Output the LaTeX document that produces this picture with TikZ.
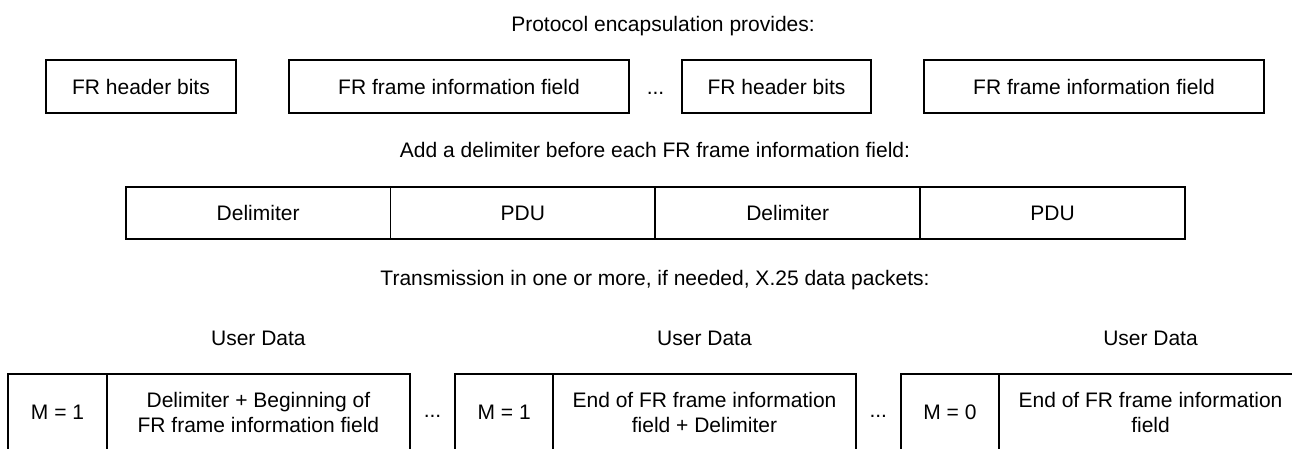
\documentclass[tikz,border=0pt]{standalone}
\usepackage{fontspec}
\setmainfont{Liberation Sans}
\begin{document}
\begin{tikzpicture}[x=1pt,y=-1pt]
\tikzset{
  boxline/.style={draw, line width=1.9pt, inner sep=0pt, outer sep=0pt,
    font=\fontsize{21}{25}\selectfont, align=center},
  cellbox/.style={boxline, text height=15pt, text depth=0pt},
  lbl/.style={inner sep=0pt, outer sep=0pt, font=\fontsize{21}{25}\selectfont, anchor=base},
  toprow/.style={cellbox, minimum height=53pt},
  midrow/.style={cellbox, minimum height=52.6pt, minimum width=264.8pt},
  mcell/.style={cellbox, minimum height=76pt, minimum width=98.3pt},
  dcell/.style={boxline, minimum height=76pt, minimum width=303.3pt}
}
\useasboundingbox (0,0) rectangle (1292,448);
\clip (0,0) rectangle (1292,448);
\fill[white] (0,0) rectangle (1292,448);

% titles
\node[lbl] (t1) at (663,31.7) {Protocol encapsulation provides:};
\node[lbl] (t2) at (655,157.3) {Add a delimiter before each FR frame information field:};
\node[lbl] (t3) at (655,285) {Transmission in one or more, if needed, X.25 data packets:};

% top row
\node[toprow, minimum width=190.6pt] (h1) at (141,86.5) {FR header bits};
\node[toprow, minimum width=340pt] (f1) at (459,86.5) {FR frame information field};
\node[lbl] (e1) at (655.5,94) {...};
\node[toprow, minimum width=189pt] (h2) at (776.5,86.5) {FR header bits};
\node[toprow, minimum width=340pt] (f2) at (1094,86.5) {FR frame information field};

% middle row
\node[midrow] (d1) at (258.1,213) {Delimiter};
\node[midrow] (p1) at (522.9,213) {PDU};
\node[midrow] (d2) at (787.7,213) {Delimiter};
\node[midrow] (p2) at (1052.5,213) {PDU};

% user data labels
\node[lbl] (u1) at (258.4,345) {User Data};
\node[lbl] (u2) at (704.5,345) {User Data};
\node[lbl] (u3) at (1150.5,345) {User Data};

% bottom row
\node[mcell] (m1) at (57.5,412) {M = 1};
\node[dcell] (x1) at (258.4,412) {Delimiter + Beginning of\\FR frame information field};
\node[lbl] (e2) at (432.5,417.5) {...};
\node[mcell] (m2) at (504.2,412) {M = 1};
\node[dcell] (x2) at (704.5,412) {End of FR frame information\\field + Delimiter};
\node[lbl] (e3) at (878.3,417.5) {...};
\node[mcell] (m3) at (949.9,412) {M = 0};
\node[dcell] (x3) at (1150.5,412) {End of FR frame information\\field};
\end{tikzpicture}
\end{document}
